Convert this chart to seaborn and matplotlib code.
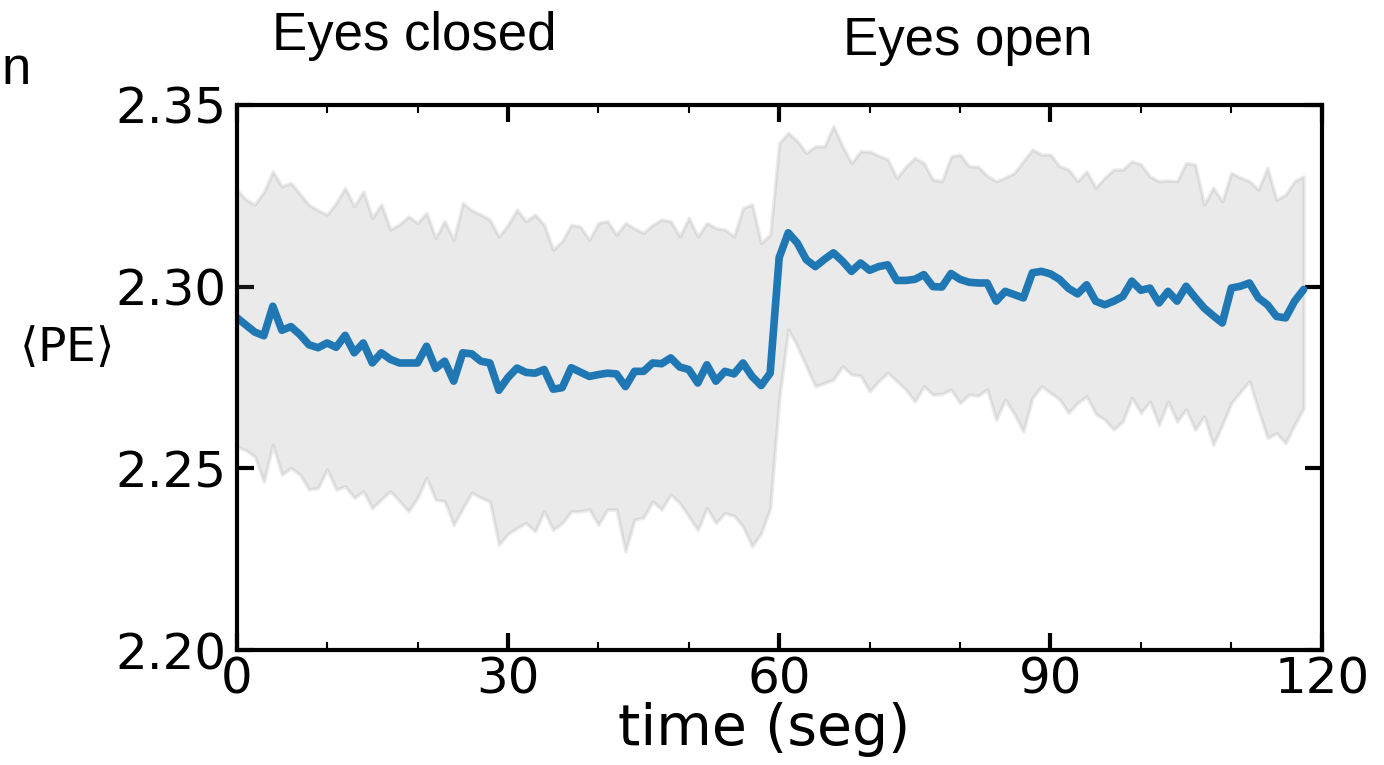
import numpy as np
import matplotlib.pyplot as plt
import pandas as pd
import seaborn as sns
from matplotlib.ticker import MultipleLocator

# time axis (one point per second)
time_s = list(range(0, 119))

# mean permutation entropy
pe_mean = [2.2915, 2.2895, 2.2875, 2.2865, 2.2946, 2.2880, 2.2890, 2.2868, 2.2840, 2.2832,
           2.2845, 2.2833, 2.2866, 2.2818, 2.2845, 2.2790, 2.2818, 2.2800, 2.2790, 2.2790,
           2.2790, 2.2836, 2.2775, 2.2795, 2.2740, 2.2818, 2.2815, 2.2795, 2.2790, 2.2715,
           2.2750, 2.2776, 2.2764, 2.2762, 2.2772, 2.2718, 2.2722, 2.2777, 2.2765, 2.2753,
           2.2758, 2.2762, 2.2760, 2.2725, 2.2767, 2.2767, 2.2790, 2.2788, 2.2804, 2.2779,
           2.2772, 2.2735, 2.2785, 2.2740, 2.2767, 2.2760, 2.2790, 2.2753, 2.2728, 2.2762,
           2.3080, 2.3148, 2.3120, 2.3074, 2.3055, 2.3075, 2.3093, 2.3070, 2.3042, 2.3065,
           2.3045, 2.3055, 2.3060, 2.3017, 2.3017, 2.3020, 2.3033, 2.3000, 2.2999, 2.3036,
           2.3020, 2.3012, 2.3010, 2.3010, 2.2960, 2.2987, 2.2978, 2.2969, 2.3038, 2.3042,
           2.3035, 2.3020, 2.2995, 2.2980, 2.3005, 2.2960, 2.2950, 2.2960, 2.2973, 2.3015,
           2.2990, 2.2996, 2.2955, 2.2987, 2.2960, 2.3001, 2.2970, 2.2941, 2.2920, 2.2900,
           2.2996, 2.3001, 2.3010, 2.2969, 2.2950, 2.2918, 2.2914, 2.2960, 2.2992]

# upper / lower edge of the shaded band
pe_upper = [2.3267, 2.3240, 2.3226, 2.3260, 2.3317, 2.3276, 2.3285, 2.3255, 2.3225, 2.3210,
            2.3198, 2.3230, 2.3272, 2.3221, 2.3262, 2.3189, 2.3226, 2.3157, 2.3171, 2.3193,
            2.3175, 2.3203, 2.3134, 2.3180, 2.3129, 2.3230, 2.3210, 2.3198, 2.3184, 2.3138,
            2.3170, 2.3212, 2.3180, 2.3198, 2.3170, 2.3102, 2.3125, 2.3170, 2.3165, 2.3129,
            2.3175, 2.3180, 2.3143, 2.3175, 2.3160, 2.3148, 2.3170, 2.3184, 2.3180, 2.3138,
            2.3189, 2.3138, 2.3175, 2.3161, 2.3157, 2.3138, 2.3216, 2.3226, 2.3120, 2.3143,
            2.3395, 2.3423, 2.3400, 2.3368, 2.3386, 2.3386, 2.3441, 2.3386, 2.3340, 2.3372,
            2.3372, 2.3360, 2.3350, 2.3299, 2.3330, 2.3354, 2.3340, 2.3294, 2.3290, 2.3358,
            2.3363, 2.3331, 2.3330, 2.3305, 2.3290, 2.3300, 2.3313, 2.3345, 2.3377, 2.3363,
            2.3363, 2.3331, 2.3322, 2.3290, 2.3317, 2.3272, 2.3300, 2.3322, 2.3322, 2.3345,
            2.3336, 2.3303, 2.3290, 2.3292, 2.3290, 2.3340, 2.3336, 2.3226, 2.3272, 2.3235,
            2.3313, 2.3300, 2.3290, 2.3267, 2.3327, 2.3239, 2.3253, 2.3290, 2.3303]

pe_lower = [2.2561, 2.2550, 2.2533, 2.2464, 2.2565, 2.2483, 2.2501, 2.2483, 2.2442, 2.2446,
            2.2497, 2.2442, 2.2451, 2.2419, 2.2437, 2.2391, 2.2415, 2.2437, 2.2410, 2.2382,
            2.2419, 2.2474, 2.2414, 2.2410, 2.2345, 2.2390, 2.2433, 2.2420, 2.2409, 2.2290,
            2.2320, 2.2336, 2.2350, 2.2327, 2.2382, 2.2331, 2.2350, 2.2382, 2.2382, 2.2387,
            2.2345, 2.2387, 2.2387, 2.2272, 2.2359, 2.2365, 2.2409, 2.2387, 2.2428, 2.2405,
            2.2368, 2.2331, 2.2391, 2.2350, 2.2377, 2.2370, 2.2340, 2.2286, 2.2322, 2.2390,
            2.2690, 2.2882, 2.2836, 2.2780, 2.2726, 2.2735, 2.2744, 2.2781, 2.2758, 2.2755,
            2.2712, 2.2740, 2.2763, 2.2740, 2.2717, 2.2684, 2.2726, 2.2703, 2.2705, 2.2717,
            2.2680, 2.2703, 2.2700, 2.2717, 2.2634, 2.2689, 2.2650, 2.2602, 2.2694, 2.2726,
            2.2708, 2.2690, 2.2653, 2.2680, 2.2698, 2.2650, 2.2634, 2.2607, 2.2629, 2.2694,
            2.2653, 2.2684, 2.2620, 2.2684, 2.2629, 2.2662, 2.2607, 2.2643, 2.2565, 2.2620,
            2.2680, 2.2710, 2.2740, 2.2660, 2.2584, 2.2597, 2.2570, 2.2620, 2.2666]

x_ticks = [0, 30, 60, 90, 120]
y_ticks = [2.20, 2.25, 2.30, 2.35]
y_ticklabels = ['2.20', '2.25', '2.30', '2.35']
conditions = ['Eyes closed', 'Eyes open']

sns.set_style("ticks")
plt.rcParams['font.family'] = ['DejaVu Sans']
plt.rcParams['text.color'] = 'black'

df = pd.DataFrame({'time': time_s, 'pe': pe_mean})

fig, ax = plt.subplots(figsize=(13.84, 7.65), dpi=100)
fig.subplots_adjust(left=0.171, right=0.955, top=0.863, bottom=0.150)

ax.fill_between(time_s, pe_lower, pe_upper, color='gray', alpha=0.16, linewidth=2.5)
sns.lineplot(data=df, x='time', y='pe', color='#1f77b4', linewidth=5.5, ax=ax)

ax.set_xlim(0, 120)
ax.set_ylim(2.20, 2.35)
ax.set_xticks(x_ticks)
ax.set_yticks(y_ticks)
ax.set_yticklabels(y_ticklabels)
ax.xaxis.set_minor_locator(MultipleLocator(10))

ax.tick_params(which='major', direction='in', length=12, width=3,
               top=True, right=True, labelsize=36, color='black', labelcolor='black')
ax.tick_params(which='minor', axis='x', direction='in', length=6, width=1.5,
               top=True, bottom=True, color='black')
ax.tick_params(axis='x', pad=4)
ax.tick_params(axis='y', pad=7)
for sp in ax.spines.values():
    sp.set_linewidth(3)
    sp.set_color('black')

ax.set_xlabel('time (seg)', fontsize=41, va='baseline', color='black')
ax.xaxis.set_label_coords(0.486, -0.174)
ax.set_ylabel(r'$\langle \mathrm{PE} \rangle$', fontsize=34, rotation=0,
              ha='center', va='center', color='black')
ax.yaxis.set_label_coords(-0.158, 0.554)

fig.text(0.299, 0.935, conditions[0], fontsize=38, family='Liberation Sans',
         ha='center', va='baseline', color='black')
fig.text(0.699, 0.928, conditions[1], fontsize=38, family='Liberation Sans',
         ha='center', va='baseline', color='black')
fig.text(0.001, 0.890, 'n', fontsize=38, family='Liberation Sans',
         ha='left', va='baseline', color='black')

plt.savefig('out.png', dpi=100)
